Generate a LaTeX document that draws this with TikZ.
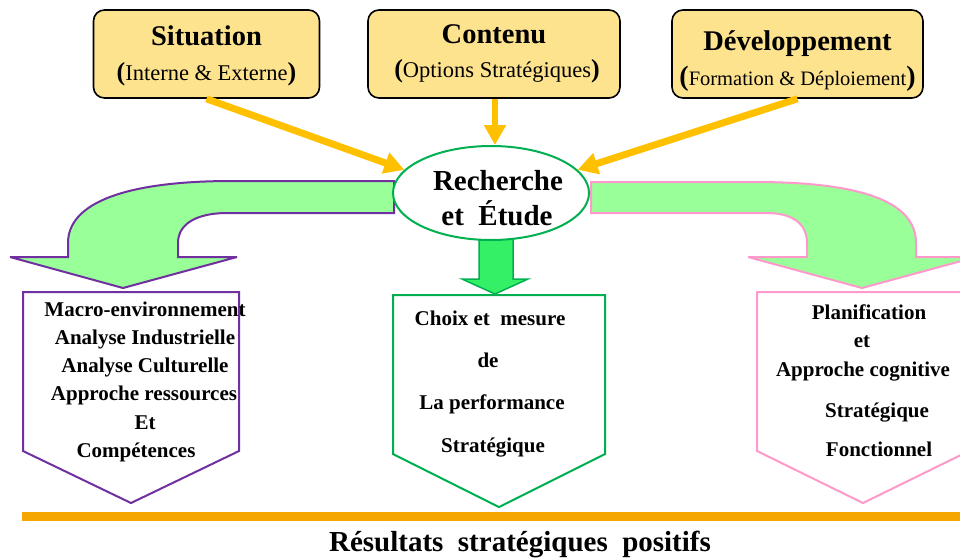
\documentclass[tikz,border=0pt]{standalone}
\usepackage{fontspec}
\setmainfont{Liberation Serif}
\usetikzlibrary{arrows.meta,shapes.geometric}

\definecolor{boxyellow}{RGB}{254,227,143}
\definecolor{feedyellow}{RGB}{255,192,0}
\definecolor{paleleaf}{RGB}{153,255,153}
\definecolor{brightleaf}{RGB}{51,240,102}
\definecolor{purpleline}{RGB}{112,48,160}
\definecolor{pinkline}{RGB}{255,153,204}
\definecolor{greenline}{RGB}{0,176,80}
\definecolor{orangebar}{RGB}{245,166,0}

\begin{document}
\begin{tikzpicture}[x=1pt,y=-1pt,
  topbox/.style={draw=black, line width=1.6pt, rounded corners=11pt,
    fill=boxyellow, minimum height=88pt, inner sep=0pt},
  headtxt/.style={anchor=base, inner sep=0pt, font=\fontsize{28.5}{30}\selectfont\bfseries},
  subtxt/.style={anchor=base, inner sep=0pt, font=\fontsize{22.5}{24}\selectfont},
  feed/.style={draw=feedyellow, line width=7pt, -{Triangle[length=20pt,width=21pt]}},
  curvedarrow/.style={fill=paleleaf, line width=2pt, miter limit=5},
  outcome/.style={fill=white, line width=2pt},
  itemtxt/.style={anchor=base, inner sep=0pt, font=\fontsize{21}{24}\selectfont\bfseries},
]
\clip (0,0) rectangle (960,558);
\fill[white] (0,0) rectangle (960,558);

% ---- three source boxes -------------------------------------------
\node[topbox, minimum width=226pt] (sit) at (206.5,54) {};
\node[headtxt] (sitT) at (206.5,45) {Situation};
\node[subtxt] (sitS) at (206.5,80) {\textbf{\fontsize{26}{26}\selectfont(}Interne \& Externe\textbf{\fontsize{26}{26}\selectfont)}};

\node[topbox, minimum width=252pt] (cont) at (494,54) {};
\node[headtxt] (contT) at (494,43) {Contenu};
\node[subtxt] (contS) at (497,77) {\textbf{\fontsize{26}{26}\selectfont(}Options Stratégiques\textbf{\fontsize{26}{26}\selectfont)}};

\node[topbox, minimum width=251pt] (dev) at (797.5,54) {};
\node[headtxt] (devT) at (797.5,50) {Développement};
\node[subtxt, font=\fontsize{20.5}{24}\selectfont] (devS) at (797.5,85) {\textbf{\fontsize{28}{28}\selectfont(}Formation \& Déploiement\textbf{\fontsize{28}{28}\selectfont)}};

% ---- results bar ----------------------------------------------------
\fill[orangebar] (22,511.5) rectangle (960,520.5);
\node[anchor=base, inner sep=0pt, font=\fontsize{29}{30}\selectfont\bfseries] (result) at (520,551)
  {Résultats~~stratégiques~~positifs};

% ---- three outcome pentagons ---------------------------------------
\draw[outcome, draw=purpleline] (23,292) -- (239,292) -- (239,451) -- (131,503) -- (23,451) -- cycle;
\draw[outcome, draw=greenline] (393,295) -- (605,295) -- (605,454) -- (499,507) -- (393,454) -- cycle;
\draw[outcome, draw=pinkline] (757,292) -- (969,292) -- (969,451) -- (863,503) -- (757,451) -- cycle;

% ---- curved arrows leaving the central ellipse ----------------------
\draw[curvedarrow, draw=purpleline]
  (394,181) -- (232,181) .. controls (125,181) and (68,203) .. (68,243)
  -- (68,257) -- (10,257) -- (123,288) -- (237,257) -- (178,257) -- (178,243)
  .. controls (178,222) and (200,213) .. (227,213) -- (394,213) -- cycle;
\draw[curvedarrow, draw=pinkline]
  (591,182) -- (755,182) .. controls (865,182) and (916,203) .. (916,243)
  -- (916,257) -- (976,257) -- (862,288) -- (748,257) -- (807,257) -- (807,243)
  .. controls (807,222) and (790,213) .. (767,213) -- (591,213) -- cycle;
\draw[fill=brightleaf, draw=greenline, line width=1.5pt]
  (479,228) -- (513,228) -- (513,279) -- (528,279) -- (495,294) -- (462,279) -- (479,279) -- cycle;

% ---- central ellipse ------------------------------------------------
\node[ellipse, draw=greenline, line width=2pt, fill=white,
  minimum width=196pt, minimum height=94pt, inner sep=0pt] (rech) at (491,193) {};
\node[headtxt, font=\fontsize{29}{30}\selectfont\bfseries] (rechA) at (498,190) {Recherche};
\node[headtxt, font=\fontsize{29}{30}\selectfont\bfseries] (rechB) at (497,225) {et~~Étude};

% ---- feeding arrows -------------------------------------------------
\draw[feed] (sit.south) -- (rech.165);
\draw[feed, line width=6.5pt] (cont.south -| 495,0) -- (rech.north -| 495,0);
\draw[feed] (dev.south) -- (rech.15);

% ---- pentagon texts -------------------------------------------------
\node[itemtxt] (l1) at (145,316) {Macro-environnement};
\node[itemtxt] (l2) at (145,344) {Analyse Industrielle};
\node[itemtxt] (l3) at (145,372) {Analyse Culturelle};
\node[itemtxt] (l4) at (144,400) {Approche ressources};
\node[itemtxt] (l5) at (145,429) {Et};
\node[itemtxt] (l6) at (136,457) {Compétences};

\node[itemtxt] (m1) at (490,325) {Choix et~~mesure};
\node[itemtxt] (m2) at (488,367) {de};
\node[itemtxt] (m3) at (492,409) {La performance};
\node[itemtxt] (m4) at (493,452) {Stratégique};

\node[itemtxt] (r1) at (869,319) {Planification};
\node[itemtxt] (r2) at (862,347) {et};
\node[itemtxt] (r3) at (863,376) {Approche cognitive};
\node[itemtxt] (r4) at (877,417) {Stratégique};
\node[itemtxt] (r5) at (879,456) {Fonctionnel};
\end{tikzpicture}
\end{document}
